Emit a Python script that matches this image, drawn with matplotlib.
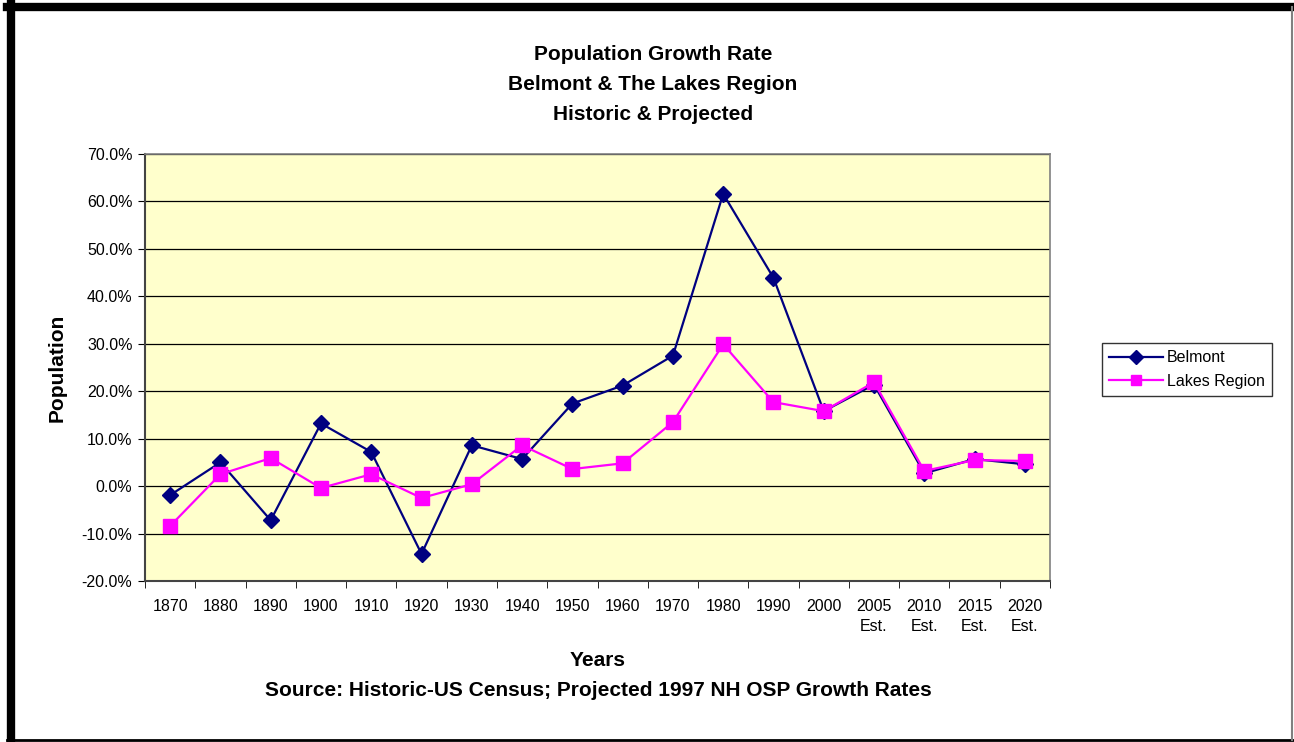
import numpy as np
import matplotlib
matplotlib.use("Agg")
import matplotlib.pyplot as plt
from matplotlib.ticker import FuncFormatter, MultipleLocator

plt.rcParams['font.family'] = ['Liberation Sans', 'DejaVu Sans']

years = ['1870', '1880', '1890', '1900', '1910', '1920', '1930', '1940', '1950',
         '1960', '1970', '1980', '1990', '2000', '2005\nEst.', '2010\nEst.',
         '2015\nEst.', '2020\nEst.']
belmont = [-1.9, 5.0, -7.2, 13.2, 7.2, -14.3, 8.6, 5.7, 17.4,
           21.2, 27.5, 61.6, 43.9, 15.8, 21.4, 2.7, 5.7, 4.6]
lakes = [-8.4, 2.5, 5.9, -0.4, 2.5, -2.5, 0.4, 8.6, 3.6,
         4.8, 13.5, 29.9, 17.7, 15.8, 21.9, 3.2, 5.5, 5.3]

fig = plt.figure(figsize=(12.94, 7.42), dpi=100)
ax = fig.add_axes([145/1294, 1 - 581/742, 905/1294, 427/742])
ax.set_facecolor('#FFFFCC')

x = np.arange(len(years))
ax.plot(x, belmont, color='#000080', marker='D', markersize=8, lw=1.6,
        label='Belmont', zorder=3)
ax.plot(x, lakes, color='#FF00FF', marker='s', markersize=10, lw=1.6,
        label='Lakes Region', zorder=3)

ax.set_xlim(-0.5, len(years) - 0.5)
ax.set_ylim(-20, 70)
ax.yaxis.set_major_locator(MultipleLocator(10))
ax.yaxis.set_major_formatter(FuncFormatter(lambda v, p: f'{v:.1f}%'))
ax.grid(axis='y', color='black', lw=0.9, zorder=1)
ax.set_axisbelow(True)

ax.set_xticks(x)
ax.set_xticklabels(years, fontsize=11.5, linespacing=1.45, va='top')
ax.set_xticks(np.arange(-0.5, len(years)), minor=True)
ax.tick_params(axis='x', which='major', length=0, pad=13)
ax.tick_params(axis='x', which='minor', length=5, direction='out', color='black')
ax.tick_params(axis='y', length=5, direction='out', labelsize=11.5, pad=4)

for s in ['left', 'bottom']:
    ax.spines[s].set_color('#444444')
    ax.spines[s].set_linewidth(1.5)
for s in ['top', 'right']:
    ax.spines[s].set_color('#808080')
    ax.spines[s].set_linewidth(1.2)

title_kw = dict(ha='center', va='center', fontsize=15, fontweight='bold')
fig.text(653/1294, 1 - 55/742, 'Population Growth Rate', **title_kw)
fig.text(653/1294, 1 - 85/742, 'Belmont & The Lakes Region', **title_kw)
fig.text(653/1294, 1 - 115/742, 'Historic & Projected', **title_kw)
fig.text(598/1294, 1 - 660/742, 'Years', **title_kw)
fig.text(598/1294, 1 - 691/742,
         'Source: Historic-US Census; Projected 1997 NH OSP Growth Rates', **title_kw)
fig.text(57/1294, 1 - 368/742, 'Population', rotation=90, **title_kw)

leg = fig.legend(loc='upper left', bbox_to_anchor=(1102/1294, 1 - 343/742),
                 fontsize=11.5, frameon=True, fancybox=False, edgecolor='black',
                 handlelength=3.4, borderpad=0.45, labelspacing=0.55,
                 handletextpad=0.2, borderaxespad=0)
leg.get_frame().set_linewidth(1.0)
for h in leg.legend_handles:
    h.set_markersize(7)

# outer frame: thick left/top, thin bottom/right
fig.add_artist(plt.Line2D([11/1294, 11/1294], [0, 1 - 3/742], color='black', lw=6,
                          transform=fig.transFigure))
fig.add_artist(plt.Line2D([7/1294, 1], [1 - 7/742, 1 - 7/742], color='black', lw=6,
                          transform=fig.transFigure))
fig.add_artist(plt.Line2D([7/1294, 1293/1294], [1 - 740/742, 1 - 740/742], color='black',
                          lw=2, transform=fig.transFigure))
fig.add_artist(plt.Line2D([1292/1294, 1292/1294], [1 - 740/742, 1 - 7/742], color='#808080',
                          lw=1.5, transform=fig.transFigure))

fig.savefig('out.png', dpi=100)
